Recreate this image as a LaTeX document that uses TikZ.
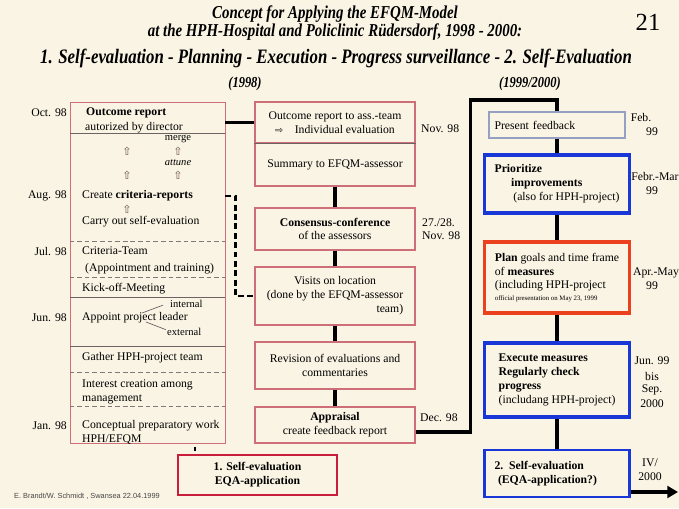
\documentclass[tikz,border=0pt]{standalone}
\usepackage{fontspec}
\setmainfont{Liberation Serif}
\newfontfamily\titlefont[FakeStretch=0.82]{Liberation Serif}
\newfontfamily\symfont{DejaVu Sans}
\newfontfamily\footfont{Liberation Sans}
\usepackage{tikz}
\usetikzlibrary{positioning,arrows.meta,calc}
\definecolor{paper}{RGB}{250,244,228}
\definecolor{pinkline}{RGB}{205,110,120}
\definecolor{sepgrey}{RGB}{110,98,98}
\definecolor{dashgrey}{RGB}{130,120,120}
\definecolor{boxblue}{RGB}{25,55,215}
\definecolor{boxred}{RGB}{235,65,30}
\definecolor{selfred}{RGB}{200,30,60}
\definecolor{feedgrey}{RGB}{150,160,195}
\definecolor{arrowbrown}{RGB}{110,85,75}
\definecolor{footgrey}{RGB}{70,70,70}

\begin{document}
\begin{tikzpicture}[x=0.03cm,y=-0.03cm,font=\fontsize{10}{11.8}\selectfont,
    sepline/.style={draw=sepgrey,line width=0.8pt},
    sepdash/.style={draw=dashgrey,line width=0.8pt,dash pattern=on 4pt off 2.5pt},
    linkbar/.style={draw=black,line width=2.8pt},
    uparrow/.style={font=\symfont\fontsize{9.5}{9.5}\selectfont,text=arrowbrown,inner sep=0pt}]
  \fill[paper] (0,0) rectangle (679,508);
  \useasboundingbox (0,0) rectangle (679,508);

  \begin{scope}[every node/.style={font=\titlefont\bfseries\itshape\fontsize{15.5}{13.2}\selectfont,align=center,inner sep=0pt}]
    \node (title) at (335,23) {Concept for Applying the EFQM-Model\\at the HPH-Hospital and Policlinic Rüdersdorf, 1998 - 2000:};
    \node[font=\titlefont\bfseries\itshape\fontsize{17.5}{18}\selectfont] (phases) at (336,58) {1. Self-evaluation - Planning - Execution - Progress surveillance - 2. Self-Evaluation};
    \node[font=\titlefont\bfseries\itshape\fontsize{13}{14}\selectfont] (year1) at (245,84) {(1998)};
    \node[font=\titlefont\bfseries\itshape\fontsize{13}{14}\selectfont] (year2) at (530,84) {(1999/2000)};
  \end{scope}
  \node[font=\fontsize{21}{21}\selectfont] (pageno) at (648,22) {21};

  \node[draw=pinkline,line width=0.8pt,minimum width=4.65cm,minimum height=10.23cm,inner sep=0pt] (lcol) at (147.5,272.5) {};
  \foreach \y in {133,297,346}
    \draw[sepline] (lcol.west |- 0,\y) -- (lcol.east |- 0,\y);
  \foreach \y in {241,277,372,406}
    \draw[sepdash] (lcol.west |- 0,\y) -- (lcol.east |- 0,\y);

  \begin{scope}[every node/.style={anchor=west,align=left,inner sep=0pt}]
    \node (outrep) at (86,113) {\textbf{Outcome report}};
    \node (autor) at (85,128) {autorized by director};
    \node (critrep) at (82,196) {Create \textbf{criteria-reports}};
    \node (carry) at (82,222) {Carry out self-evaluation};
    \node (crteam) at (82,251) {Criteria-Team};
    \node (appoint) at (85,269) {(Appointment and training)};
    \node (kickoff) at (82,289) {Kick-off-Meeting};
    \node (leader) at (82,318) {Appoint project leader};
    \node[font=\fontsize{9}{10}\selectfont] (intern) at (170,304) {internal};
    \node[font=\fontsize{9}{10}\selectfont] (extern) at (167,332) {external};
    \node (gather) at (82,358) {Gather HPH-project team};
    \node (interest) at (82,392) {Interest creation among\\management};
    \node (concept) at (82,432) {Conceptual preparatory work\\HPH/EFQM};
  \end{scope}
  \node[font=\fontsize{9}{10}\selectfont,inner sep=0pt] (merge) at (178,139) {merge};
  \node[font=\itshape\fontsize{9}{10}\selectfont,inner sep=0pt] (attune) at (178,163) {attune};
  \node[uparrow] (upa) at (127,151) {⇧};
  \node[uparrow] (upb) at (178,151) {⇧};
  \node[uparrow] (upc) at (127,175) {⇧};
  \node[uparrow] (upd) at (178,175) {⇧};
  \node[uparrow] (upe) at (127,209) {⇧};
  \coordinate (lj1) at (142,313);
  \coordinate (lj2) at (146,322);
  \draw[sepgrey,line width=0.6pt] (lj1) -- ([xshift=-6pt,yshift=-1pt]intern.west);
  \draw[sepgrey,line width=0.6pt] (lj2) -- ([xshift=-1pt,yshift=2pt]extern.west);

  \begin{scope}[every node/.style={anchor=east,inner sep=0pt}]
    \node (doct) at (67,113) {Oct. 98};
    \node (daug) at (67,196) {Aug. 98};
    \node (djul) at (67,252) {Jul. 98};
    \node (djun) at (67,318) {Jun. 98};
    \node (djan) at (67,426) {Jan. 98};
  \end{scope}

  \begin{scope}[every node/.style={draw=pinkline,line width=0.9pt,fill=paper,minimum width=4.8cm,align=center,inner sep=2pt}]
    \node[minimum height=1.23cm] (m1) at (335,122.5) {Outcome report to ass.-team\\{\symfont\fontsize{8}{8}\selectfont ⇨}\quad Individual evaluation};
    \node[minimum height=1.29cm] (m2) at (335,164.5) {Summary to EFQM-assessor};
    \node[minimum height=1.26cm] (m3) at (335,229) {\textbf{Consensus-conference}\\of the assessors};
    \node[minimum height=1.74cm] (m4) at (335,296) {\begin{tabular}{@{}c@{}}Visits on location\\(done by the EFQM-assessor\\\multicolumn{1}{@{}r@{}}{team)}\end{tabular}};
    \node[minimum height=1.41cm] (m5) at (335,365.5) {Revision of evaluations and\\commentaries};
    \node[minimum height=1.08cm] (m6) at (335,425) {\textbf{Appraisal}\\create feedback report};
  \end{scope}
  \draw[sepline] (m1.south west) -- (m1.south east);

  \begin{scope}[every node/.style={anchor=west,inner sep=0pt}]
    \node (dnov) at (421,129) {Nov. 98};
    \node (dcons) at (422,223) {27./28.};
    \node (dcons2) at (422,236) {Nov. 98};
    \node (ddec) at (420,418) {Dec. 98};
  \end{scope}

  \node[draw=selfred,line width=1.6pt,fill=paper,minimum width=4.77cm,minimum height=1.2cm,align=center,font=\bfseries\fontsize{10}{12}\selectfont] (self1) at (257.5,475) {1. Self-evaluation\\EQA-application};

  \begin{scope}[every node/.style={fill=paper,minimum width=4.35cm,align=left}]
    \node[draw=feedgrey,line width=0.9pt,minimum width=4.08cm,minimum height=0.78cm,text width=3.75cm] (r1) at (557,125) {Present feedback};
    \node[draw=boxblue,line width=2.6pt,minimum height=1.74cm] (r2) at (557,184) {\textbf{Prioritize}\\\hspace*{1.4em}\textbf{improvements}\\\hspace*{1.6em}(also for HPH-project)};
    \node[draw=boxred,line width=2.6pt,minimum height=2.13cm] (r3) at (557,277.5) {\textbf{Plan} goals and time frame\\of \textbf{measures}\\(including HPH-project\\[-2pt]{\fontsize{5.8}{6}\selectfont official presentation on May 23, 1999}};
    \node[draw=boxblue,line width=2.6pt,minimum height=2.22cm] (r4) at (557,380) {\textbf{Execute measures}\\\textbf{Regularly check}\\\textbf{progress}\\(includang HPH-project)};
    \node[draw=boxblue,line width=1.8pt,minimum height=1.41cm,text width=3.75cm,font=\bfseries\fontsize{10}{12}\selectfont] (r5) at (557,473.5) {2. Self-evaluation\\\hspace*{0.3em}(EQA-application?)};
  \end{scope}

  \begin{scope}[every node/.style={inner sep=0pt}]
    \node (dfeb) at (641,118) {Feb.};
    \node (dfeb2) at (652,132) {99};
    \node (dfm) at (655,177) {Febr.-Mar};
    \node (dfm2) at (652,191) {99};
    \node (dam) at (656,273) {Apr.-May};
    \node (dam2) at (652,286) {99};
    \node (djs) at (652,361) {Jun. 99};
    \node (djs2) at (652,376) {bis};
    \node (djs3) at (652,390) {Sep.};
    \node (djs4) at (652,404) {2000};
    \node (div) at (650,463) {IV/};
    \node (div2) at (650,477) {2000};
  \end{scope}

  \begin{scope}[every edge/.style={linkbar}]
    \path [-] (lcol.east |- m1.west) edge (m1.west);
    \path [-] (m2) edge (m3);
    \path [-] (m3) edge (m4);
    \path [-] (m4) edge (m5);
    \path [-] (m5) edge (m6);
    \path [-] (r1) edge (r2);
    \path [-] (r2) edge (r3);
    \path [-] (r3) edge (r4);
    \path [-] (r4) edge (r5);
  \end{scope}
  \draw[line width=3.2pt,line join=miter] ([yshift=-6pt]m6.east) -- ++(55,0) |- ([yshift=10pt]r1.north) -- (r1.north);
  \draw[line width=1.8pt,dash pattern=on 5pt off 3pt] (lcol.east |- critrep) -- ++(10,0) |- (m4.west);
  \coordinate (tick) at (195,449);
  \draw[line width=2pt,shorten <=3pt,shorten >=3pt] (tick |- lcol.south) -- (tick |- self1.north);
  \coordinate (exit) at (678,492);
  \draw[line width=3pt,-{Triangle[length=9pt,width=10pt]}] (r5.east |- exit) -- (exit);

  \node[anchor=west,font=\footfont\fontsize{6.3}{7}\selectfont,text=footgrey] (credit) at (10,496) {E. Brandt/W. Schmidt , Swansea 22.04.1999};
\end{tikzpicture}
\end{document}
